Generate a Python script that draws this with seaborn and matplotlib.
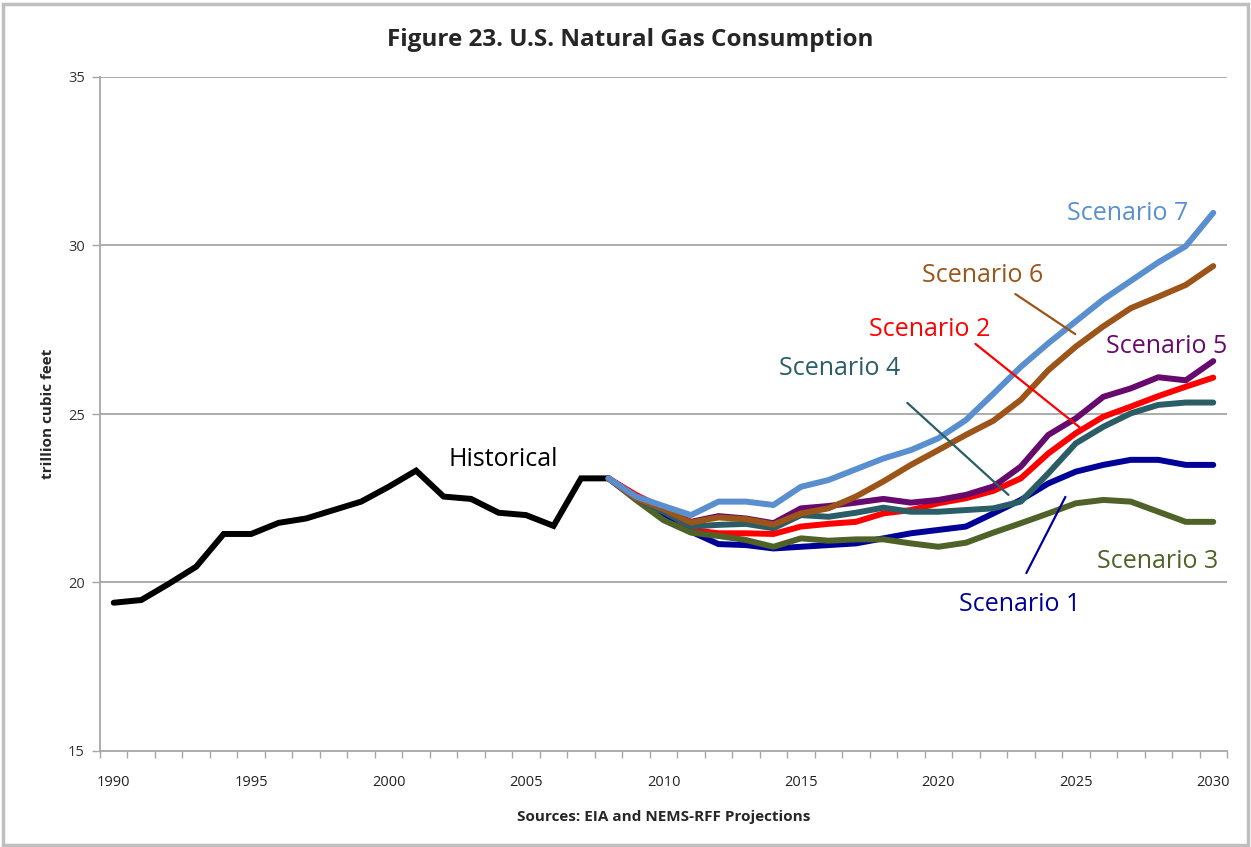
import numpy as np
import pandas as pd
import matplotlib
matplotlib.use("Agg")
import matplotlib.pyplot as plt
from matplotlib.patches import Rectangle
from matplotlib.ticker import FixedLocator, NullFormatter
import seaborn as sns

# ---------------- data ----------------
hist_years = list(range(1990, 2009))
historical = [19.40, 19.48, 19.96, 20.47, 21.44, 21.44, 21.77, 21.90, 22.15, 22.40,
              22.84, 23.32, 22.55, 22.48, 22.07, 22.00, 21.68, 23.09, 23.09]

proj_years = list(range(2008, 2031))
scenario1 = [23.09, 22.55, 22.05, 21.51, 21.14, 21.11, 21.01, 21.06, 21.11, 21.16, 21.31, 21.46,
             21.56, 21.66, 22.05, 22.45, 22.94, 23.29, 23.49, 23.64, 23.64, 23.49, 23.49]
scenario2 = [23.09, 22.60, 22.20, 21.56, 21.46, 21.46, 21.44, 21.66, 21.74, 21.80, 22.05, 22.15,
             22.35, 22.50, 22.72, 23.09, 23.83, 24.43, 24.92, 25.22, 25.53, 25.81, 26.08]
scenario3 = [23.09, 22.45, 21.85, 21.48, 21.38, 21.26, 21.06, 21.31, 21.24, 21.28, 21.28, 21.16,
             21.06, 21.18, 21.48, 21.76, 22.05, 22.35, 22.45, 22.40, 22.10, 21.80, 21.80]
scenario4 = [23.09, 22.50, 22.10, 21.66, 21.71, 21.74, 21.61, 22.00, 21.95, 22.07, 22.22, 22.10,
             22.10, 22.15, 22.20, 22.40, 23.24, 24.13, 24.62, 25.02, 25.27, 25.34, 25.34]
scenario5 = [23.09, 22.50, 22.20, 21.80, 21.97, 21.90, 21.76, 22.20, 22.27, 22.37, 22.48, 22.37,
             22.45, 22.60, 22.85, 23.44, 24.38, 24.87, 25.51, 25.76, 26.09, 26.00, 26.57]
scenario6 = [23.09, 22.50, 22.18, 21.78, 21.93, 21.88, 21.72, 22.05, 22.20, 22.55, 23.00, 23.49,
             23.93, 24.38, 24.80, 25.42, 26.30, 27.00, 27.60, 28.14, 28.48, 28.83, 29.39]
scenario7 = [23.09, 22.55, 22.27, 22.00, 22.40, 22.40, 22.30, 22.84, 23.04, 23.36, 23.68, 23.93,
             24.28, 24.82, 25.60, 26.40, 27.10, 27.75, 28.40, 28.95, 29.50, 29.98, 30.97]

scenario_names = ["Scenario 1", "Scenario 2", "Scenario 3", "Scenario 4",
                  "Scenario 5", "Scenario 6", "Scenario 7"]
scenario_values = [scenario1, scenario2, scenario3, scenario4, scenario5, scenario6, scenario7]
scenario_colors = ["#000099", "#FF0000", "#4F6228", "#2B5D66",
                   "#660A6E", "#9C5418", "#5A8FCF"]

x_tick_years = [1990, 1995, 2000, 2005, 2010, 2015, 2020, 2025, 2030]
y_ticks = [15, 20, 25, 30, 35]

# label positions (left x, center y) in data coords
label_pos = {
    "Scenario 1": (2020.76, 19.36),
    "Scenario 2": (2017.49, 27.52),
    "Scenario 3": (2025.78, 20.61),
    "Scenario 4": (2014.22, 26.36),
    "Scenario 5": (2026.10, 26.99),
    "Scenario 6": (2019.42, 29.12),
    "Scenario 7": (2024.69, 30.96),
}
leaders = {
    "Scenario 1": ((2023.20, 20.28), (2024.62, 22.54)),
    "Scenario 2": ((2021.35, 27.08), (2025.13, 24.61)),
    "Scenario 4": ((2018.87, 25.33), (2022.55, 22.60)),
    "Scenario 6": ((2022.80, 28.56), (2024.98, 27.37)),
}

# ---------------- plot ----------------
sns.set_style("white")
plt.rcParams['font.family'] = ['Open Sans', 'DejaVu Sans']

fig = plt.figure(figsize=(12.51, 8.47), dpi=100)
ax = fig.add_axes([100 / 1251, 1 - 751 / 847, (1227 - 100) / 1251, (751 - 77) / 847])

grid_c = "#A6A6A6"
for yv in y_ticks[1:]:
    ax.axhline(yv, color=grid_c, lw=1.3, zorder=0)

sns.lineplot(x=hist_years, y=historical, color="black", lw=4.3, ax=ax,
             solid_joinstyle="miter", zorder=2)
for name, vals, col in zip(scenario_names, scenario_values, scenario_colors):
    sns.lineplot(x=proj_years, y=vals, color=col, lw=4.3, ax=ax, zorder=3)

for name, col in zip(scenario_names, scenario_colors):
    x0, y0 = label_pos[name]
    ax.text(x0, y0, name, color=col, fontsize=18, ha="left", va="center")
    if name in leaders:
        (a, b), (c, d) = leaders[name]
        ax.plot([a, c], [b, d], color=col, lw=1.6, zorder=4)

ax.text(2002.18, 23.66, "Historical", color="black", fontsize=18, ha="left", va="center")

ax.set_xlim(1989.5, 2030.5)
ax.set_ylim(15, 35)
ax.set_xticks(x_tick_years)
ax.set_xticklabels([str(y) for y in x_tick_years], fontsize=10.5, color="#222222")
ax.xaxis.set_minor_locator(FixedLocator(np.arange(1989.5, 2031, 1.0)))
ax.xaxis.set_minor_formatter(NullFormatter())
ax.tick_params(axis="x", which="major", length=0, pad=17)
ax.tick_params(axis="x", which="minor", length=5, color=grid_c, width=1, direction="out", bottom=True)
ax.set_yticks(y_ticks)
ax.set_yticklabels([str(v) for v in y_ticks], fontsize=10.5, color="#333333")
ax.tick_params(axis="y", length=6, color=grid_c, width=1, direction="out", left=True, pad=5)

for s in ["top", "right"]:
    ax.spines[s].set_visible(False)
ax.spines["left"].set_color(grid_c)
ax.spines["left"].set_linewidth(1.3)
ax.spines["bottom"].set_color(grid_c)
ax.spines["bottom"].set_linewidth(1.3)

ax.set_xlabel("")
ax.set_ylabel("trillion cubic feet", fontsize=11, fontweight="bold", labelpad=9)

fig.text(630 / 1251, 1 - 40 / 847, "Figure 23. U.S. Natural Gas Consumption",
         ha="center", va="center", fontsize=17.5, fontweight="bold")
fig.text(664 / 1251, 1 - 817 / 847, "Sources: EIA and NEMS-RFF Projections",
         ha="center", va="center", fontsize=11, fontweight="bold")

fig.patches.append(Rectangle((3 / 1251, 2 / 847), 1245 / 1251, 841 / 847,
                             transform=fig.transFigure, fill=False,
                             edgecolor="#BFBFBF", lw=2.5))

fig.savefig("out.png", dpi=100)
